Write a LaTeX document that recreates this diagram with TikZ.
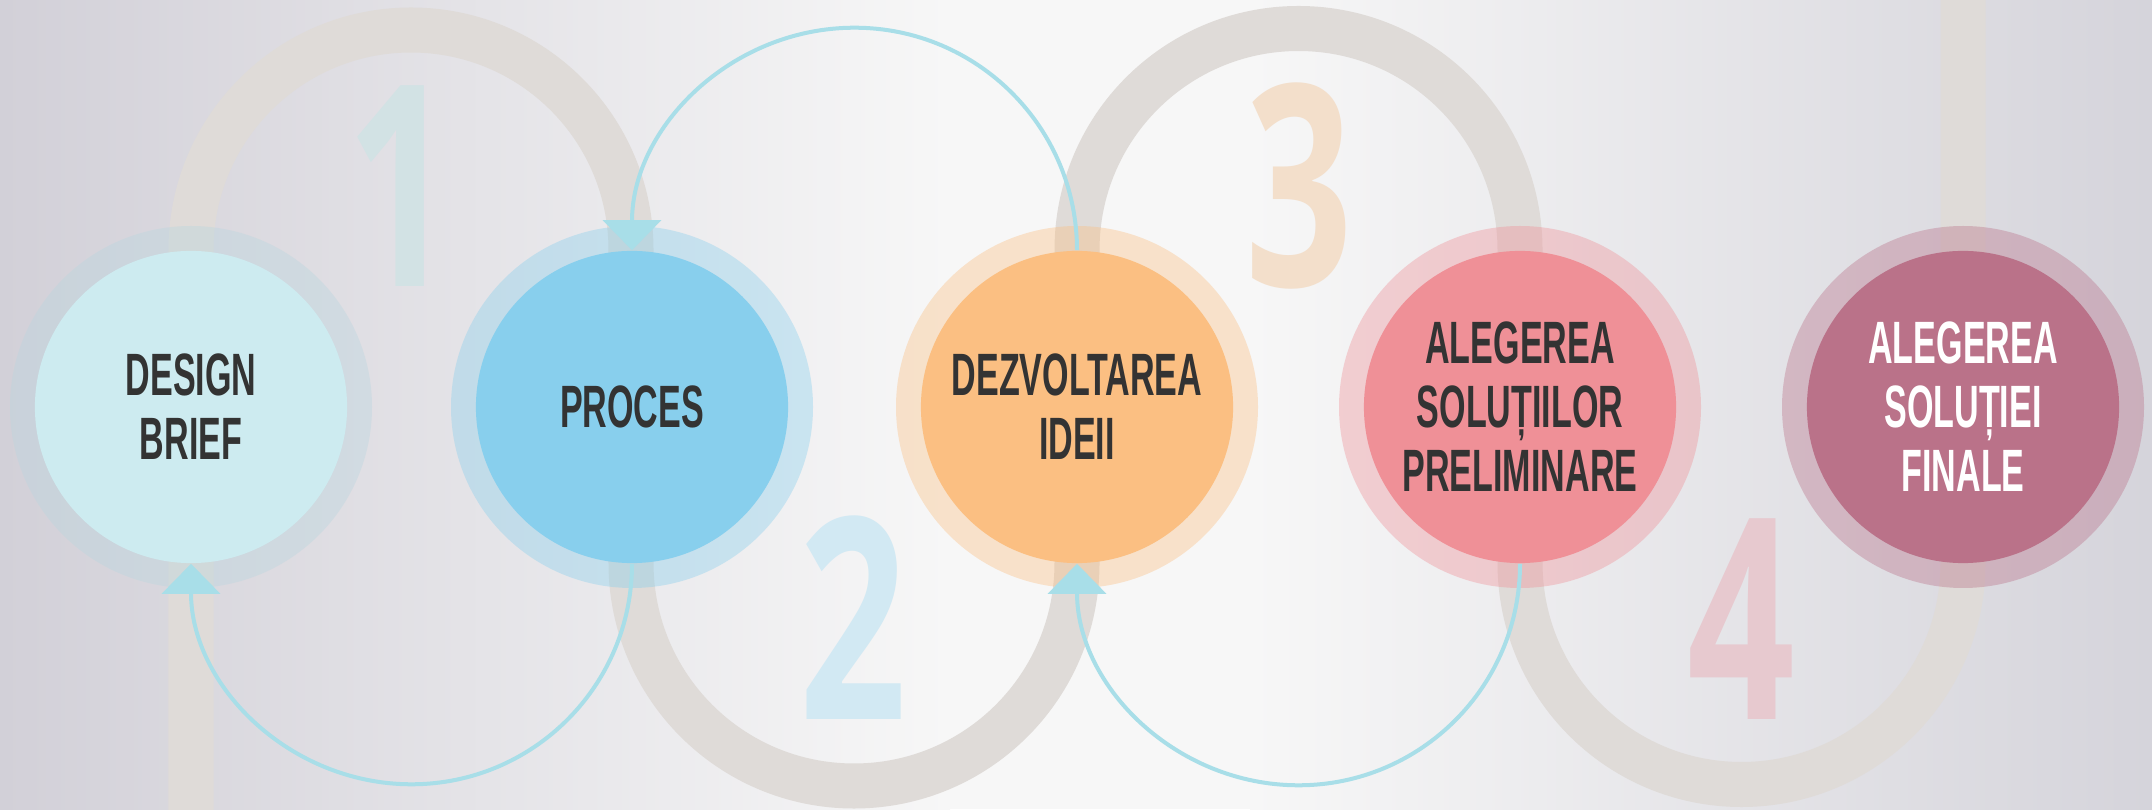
\documentclass[tikz,border=0pt]{standalone}
\usepackage{fontspec}
\setmainfont{Liberation Sans}
\newfontfamily\numfont{Open Sans}
\usetikzlibrary{arrows.meta}

\definecolor{bgside}{HTML}{D2D0D8}
\definecolor{bgsideR}{HTML}{D5D4DB}
\definecolor{bgmid}{HTML}{F7F7F7}
\definecolor{ringgray}{HTML}{DFDBD8}
\definecolor{loopblue}{HTML}{A8DEE8}
\definecolor{labelgray}{HTML}{333333}
\definecolor{brieffill}{HTML}{CDEBF0}
\definecolor{briefhalo}{HTML}{B9D6DF}
\definecolor{procfill}{HTML}{88CFED}
\definecolor{dezvfill}{HTML}{FBBF82}
\definecolor{prelimfill}{HTML}{EF9097}
\definecolor{finalfill}{HTML}{BA7289}
\definecolor{numone}{HTML}{D2E2E4}
\definecolor{numtwo}{HTML}{D2E9F3}
\definecolor{numthree}{HTML}{F3DFCB}
\definecolor{numfour}{HTML}{E7C9CF}

\newcommand{\slim}[1]{\scalebox{0.57}[1]{#1}}
\newcommand{\slimnum}[1]{\scalebox{0.67}[1]{#1}}

\tikzset{
  stepcircle/.style={circle, minimum size=3.12cm, inner sep=0pt, align=center,
    text=labelgray, font=\bfseries\fontsize{17}{18.2}\selectfont},
  bignum/.style={inner sep=0pt, font=\numfont\bfseries\fontsize{80}{80}\selectfont},
  loopline/.style={draw=loopblue, line width=0.4mm,
    -{Triangle[width=5.8mm,length=3mm,fill=loopblue]}}
}

\begin{document}
\begin{tikzpicture}[x=0.01cm,y=0.01cm]
	\useasboundingbox (0,0) rectangle (2152,809);
	\clip (0,0) rectangle (2152,809);
	\fill[bgmid] (0,0) rectangle (2152,809);
	\shade[left color=bgside, right color=bgmid] (0,0) rectangle (950,809);
	\shade[left color=bgmid, right color=bgsideR] (1250,0) rectangle (2152,809);
	\def\serpent{(191,-30) -- (191,559) arc[start angle=180, end angle=0, radius=220]
		-- (631,246) arc[start angle=180, end angle=360, radius=223]
		-- (1077,559) arc[start angle=180, end angle=0, radius=221.5]
		-- (1520,246) arc[start angle=180, end angle=360, radius=221.5]
		-- (1963,840)}
	\draw[ringgray, line width=4.5mm] \serpent;
	\coordinate (c1) at (191,402);
	\coordinate (c2) at (632,402);
	\coordinate (c3) at (1077,402);
	\coordinate (c4) at (1520,402);
	\coordinate (c5) at (1963,402);
	\foreach \c/\h in {c1/briefhalo, c2/procfill, c3/dezvfill, c4/prelimfill, c5/finalfill}
		\fill[\h, opacity=0.38] (\c) circle (181);
	\node[stepcircle, fill=brieffill] (brief) at (c1) {\slim{DESIGN}\\\slim{BRIEF}};
	\node[stepcircle, fill=procfill] (proces) at (c2) {\slim{PROCES}};
	\node[stepcircle, fill=dezvfill] (dezv) at (c3) {\slim{DEZVOLTAREA}\\\slim{IDEII}};
	\node[stepcircle, fill=prelimfill] (prelim) at (c4) {\slim{ALEGEREA}\\\slim{SOLUȚIILOR}\\\slim{PRELIMINARE}};
	\node[stepcircle, fill=finalfill, text=white] (final) at (c5) {\slim{ALEGEREA}\\\slim{SOLUȚIEI}\\\slim{FINALE}};
	\draw[loopline] (proces.south) arc[start angle=0, end angle=-180, radius=220.5];
	\draw[loopline] (dezv.north) arc[start angle=0, end angle=180, radius=222.5];
	\draw[loopline] (prelim.south) arc[start angle=0, end angle=-180, radius=221.5];
	\node[bignum, text=numone] (one) at (400,623) {\slimnum{1}};
	\node[bignum, text=numtwo] (two) at (853,191) {\slimnum{2}};
	\node[bignum, text=numthree] (three) at (1299,623) {\slimnum{3}};
	\node[bignum, text=numfour] (four) at (1741,190) {\slimnum{4}};
\end{tikzpicture}
\end{document}
